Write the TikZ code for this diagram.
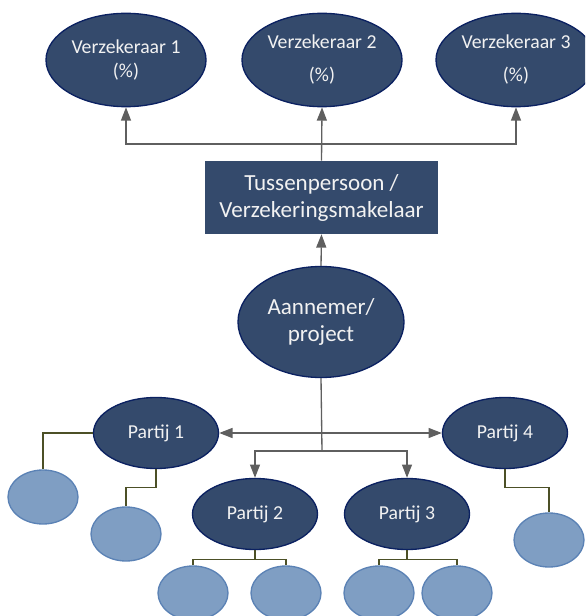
\documentclass[tikz,border=0pt]{standalone}
\usepackage{fontspec}
\setmainfont{Carlito}
\usetikzlibrary{shapes.geometric,arrows.meta}
\definecolor{darkfill}{HTML}{344A6C}
\definecolor{darkline}{HTML}{0B2161}
\definecolor{lightfill}{HTML}{7F9EC3}
\definecolor{lightline}{HTML}{5B82B5}
\definecolor{arrowgray}{HTML}{5F5F5F}
\definecolor{olive}{HTML}{4C5026}
\definecolor{textwhite}{HTML}{F2F2F2}
\begin{document}
\begin{tikzpicture}[x=0.75pt,y=-0.75pt,
  party/.style={ellipse,draw=darkline,line width=1pt,fill=darkfill,
    text=textwhite,inner sep=0pt,align=center},
  insurer/.style={party,minimum width=120pt,minimum height=70pt,
    font=\fontsize{14.8}{17.3}\selectfont},
  partij/.style={party,minimum width=93.75pt,minimum height=53.25pt,
    font=\fontsize{14.8}{17.3}\selectfont},
  sub/.style={ellipse,draw=lightline,line width=1pt,fill=lightfill,
    inner sep=0pt,minimum width=52.5pt,minimum height=40.5pt},
  broker/.style={rectangle,fill=darkfill,text=textwhite,inner sep=0pt,
    minimum width=174.75pt,minimum height=54.75pt,align=center,
    font=\fontsize{17.3}{20.25}\selectfont},
  arr/.style={draw=arrowgray,line width=1pt,
    -{Triangle[length=10pt,width=7.5pt]}},
  twoarr/.style={draw=arrowgray,line width=1pt,
    {Triangle[length=10pt,width=7.5pt]}-{Triangle[length=10pt,width=7.5pt]}},
  plain/.style={draw=arrowgray,line width=1pt},
  branch/.style={draw=olive,line width=1pt}]
\useasboundingbox (0,0) rectangle (585,616);
\clip (0,0) rectangle (585,616);

% insurers
\node[insurer] (v1) at (126,60) {\raisebox{-2pt}{Verzekeraar 1}\\\raisebox{-2pt}{(\%)}};
\node[insurer,font=\fontsize{14.8}{24.75}\selectfont] (v2) at (322,60) {Verzekeraar 2\\(\%)};
\node[insurer,font=\fontsize{14.8}{24.75}\selectfont] (v3) at (516,60) {Verzekeraar 3\\(\%)};

% broker and contractor
\node[broker] (box) at (321.5,197.5) {Tussenpersoon /\\Verzekeringsmakelaar};
\node[party,minimum width=124.5pt,minimum height=83.25pt,
  font=\fontsize{17.3}{20.25}\selectfont] (aan) at (321,322) {Aannemer/\\project};

% parties
\node[partij] (p1) at (156,433) {Partij 1};
\node[partij] (p2) at (255,514) {Partij 2};
\node[partij] (p3) at (407,514) {Partij 3};
\node[partij] (p4) at (505,433) {Partij 4};

% sub-parties
\node[sub] (c1) at (43,497) {};
\node[sub] (c2) at (126,534) {};
\node[sub] (c21) at (193,593) {};
\node[sub] (c22) at (286,593) {};
\node[sub] (c31) at (379,593) {};
\node[sub] (c32) at (457,593) {};
\node[sub] (c4) at (549,540) {};

% broker to insurers
\coordinate (bus) at (322,144);
\draw[arr] (box.north) -- (v2.south);
\draw[arr] (bus) -| (v1.south);
\draw[arr] (bus) -| (v3.south);

% contractor to broker
\draw[arr] (aan.north) -- (box.south);

% contractor to parties
\coordinate (split) at (322,451);
\draw[plain] (aan.south) -- (split);
\draw[twoarr] (p1.east) -- (p4.west);
\draw[arr] (split) -| (p2.north);
\draw[arr] (split) -| (p3.north);

% parties to sub-parties
\draw[branch] (p1.west) -| (c1.north);
\draw[branch] (p1.south) -- ++(0,18) -| (c2.north);
\draw[branch] (p2.south) -- ++(0,9) -| (c21.north);
\draw[branch] (p2.south) -- ++(0,9) -| (c22.north);
\draw[branch] (p3.south) -- ++(0,9) -| (c31.north);
\draw[branch] (p3.south) -- ++(0,9) -| (c32.north);
\draw[branch] (p4.south) -- ++(0,18) -| (c4.north);
\end{tikzpicture}
\end{document}
